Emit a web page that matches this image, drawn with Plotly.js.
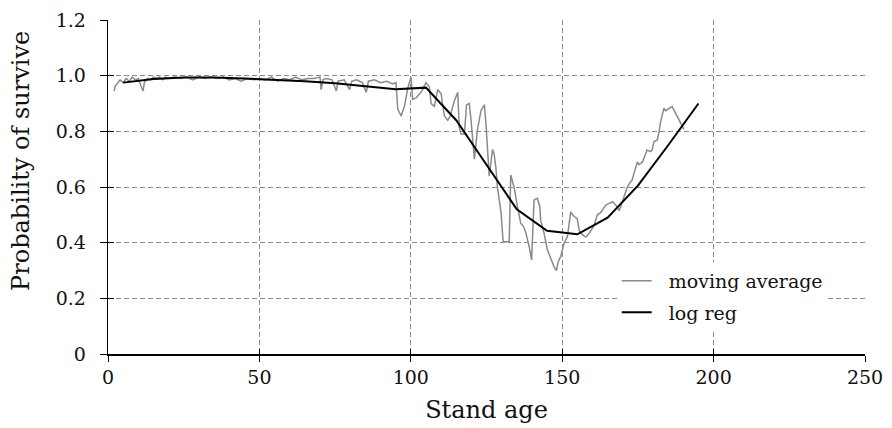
<!DOCTYPE html>
<html>
<head>
<meta charset="utf-8">
<script src="https://cdn.plot.ly/plotly-3.0.1.min.js"></script>
<style>html,body{margin:0;padding:0;background:#fff;}#chart{width:892px;height:428px;}</style>
</head>
<body>
<div id="chart"></div>
<script>
// Moving average (grey)
const maX = [2, 2.5, 3, 4, 5, 6, 7, 8, 9, 10, 11, 11.6, 12, 13, 14, 15, 16, 17, 18, 19, 20, 22, 24, 26, 28, 30, 32, 34, 36, 38, 40, 42, 44, 46, 48, 50, 52, 54, 56, 58, 60, 62, 64, 66, 68, 70, 70.4, 71, 72, 74, 75.4, 76, 78, 79.8, 80.5, 82, 84, 85.3, 86, 88, 90, 92, 94, 95.1, 95.7, 96.8, 97.9, 99, 100.1, 100.6, 101.7, 103.4, 105, 106.1, 106.7, 107.8, 108.9, 110, 111.1, 112.2, 113, 114.4, 115.5, 116, 116.6, 117.7, 118.4, 119.3, 119.9, 121, 122, 123.2, 124.3, 124.8, 125.9, 127, 127.5, 128.1, 128.6, 129.8, 130.5, 132.5, 133, 134.1, 135.2, 136.3, 137.4, 138, 139.1, 139.9, 140.7, 141.8, 142.6, 142.9, 144, 145.1, 146.2, 147.3, 148.1, 148.7, 149.5, 150.6, 151.7, 152.8, 153.9, 155, 155.6, 156.7, 157.8, 158.9, 160.5, 161.6, 162.7, 164.4, 165.5, 166.6, 167.7, 168.8, 169.3, 170.4, 171, 171.5, 172.6, 173.1, 173.7, 174.8, 175.3, 176.5, 177.6, 178, 179.2, 179.7, 180.3, 181.4, 182, 182.5, 183.6, 184.1, 186.3, 190.2];
const maY = [0.945, 0.965, 0.97, 0.985, 0.975, 0.99, 0.98, 0.995, 0.985, 0.99, 0.96, 0.945, 0.975, 0.99, 0.985, 0.995, 0.99, 0.995, 0.985, 0.995, 0.99, 0.995, 0.99, 0.995, 0.985, 0.995, 0.99, 0.995, 0.99, 0.995, 0.985, 0.99, 0.98, 0.99, 0.985, 0.99, 0.985, 0.995, 0.98, 0.99, 0.985, 0.995, 0.985, 0.99, 0.99, 0.995, 0.95, 0.985, 0.99, 0.985, 0.945, 0.98, 0.985, 0.95, 0.98, 0.985, 0.975, 0.94, 0.98, 0.985, 0.975, 0.98, 0.97, 0.975, 0.88, 0.855, 0.89, 0.955, 0.995, 0.915, 0.92, 0.94, 0.975, 0.96, 0.9, 0.89, 0.95, 0.935, 0.855, 0.84, 0.855, 0.91, 0.94, 0.815, 0.79, 0.79, 0.895, 0.9, 0.84, 0.70, 0.805, 0.875, 0.895, 0.83, 0.64, 0.735, 0.72, 0.67, 0.60, 0.51, 0.403, 0.403, 0.643, 0.60, 0.53, 0.47, 0.455, 0.435, 0.386, 0.338, 0.553, 0.559, 0.53, 0.48, 0.434, 0.374, 0.344, 0.314, 0.30, 0.332, 0.35, 0.398, 0.421, 0.51, 0.495, 0.485, 0.445, 0.428, 0.42, 0.434, 0.46, 0.50, 0.508, 0.535, 0.541, 0.547, 0.535, 0.515, 0.529, 0.565, 0.577, 0.60, 0.619, 0.625, 0.649, 0.69, 0.68, 0.69, 0.72, 0.733, 0.727, 0.733, 0.763, 0.769, 0.80, 0.835, 0.883, 0.874, 0.889, 0.807];

// Logistic regression (black)
const lrX = [5, 15, 25, 35, 45, 55, 65, 75, 85, 95, 105, 115, 125, 135, 145, 155, 165, 175, 185, 195];
const lrY = [0.975, 0.988, 0.993, 0.993, 0.99, 0.986, 0.98, 0.973, 0.963, 0.951, 0.957, 0.84, 0.68, 0.52, 0.443, 0.43, 0.49, 0.605, 0.75, 0.9];

const xTickVals = [0, 50, 100, 150, 200, 250];
const yTickVals = [0, 0.2, 0.4, 0.6, 0.8, 1.0, 1.2];
const yTickText = ['0', '0.2', '0.4', '0.6', '0.8', '1.0', '1.2'];
const seriesNames = ['moving average', 'log reg'];

const FONT = 'DejaVu Serif';
const PAD = '\u00a0\u00a0';
const RPAD = '\u00a0\u2009';

const traces = [
  {x: maX, y: maY, type: 'scatter', mode: 'lines', name: PAD + seriesNames[0], legendgroup: 'a',
   line: {color: '#8a8a8a', width: 1.5}},
  {x: lrX, y: lrY, type: 'scatter', mode: 'lines', name: PAD + seriesNames[1], legendgroup: 'b',
   line: {color: '#000000', width: 2}},
  // empty trace so the overlay axes (inner half of the crossing ticks) are drawn
  {x: [], y: [], type: 'scatter', mode: 'lines', xaxis: 'x2', yaxis: 'y2', showlegend: false, hoverinfo: 'skip'}
];

const common = {showline: true, linecolor: '#000', linewidth: 1.5, zeroline: false, tickcolor: '#000',
                showgrid: true, gridcolor: '#8a8a8a', griddash: '5px,3px', gridwidth: 1};

const layout = {
  width: 892, height: 428,
  margin: {l: 108, r: 27, t: 20, b: 74},
  paper_bgcolor: '#fff', plot_bgcolor: '#fff',
  font: {family: FONT, size: 20, color: '#111'},
  showlegend: true,
  legend: {x: 0.672, xanchor: 'left', y: 0.276, yanchor: 'top',
           bgcolor: '#fff', borderwidth: 0, font: {family: FONT, size: 19, color: '#111'},
           tracegroupgap: 4},
  xaxis: Object.assign({}, common, {
          range: [0, 250], tickvals: xTickVals, ticks: 'outside', ticklen: 6,
          tickfont: {family: FONT, size: 19, color: '#111'},
          title: {text: 'Stand age', font: {family: FONT, size: 24, color: '#111'}, standoff: 14}}),
  yaxis: Object.assign({}, common, {
          range: [0, 1.2], tickvals: yTickVals, ticktext: yTickText.map(t => t + RPAD),
          ticks: 'outside', ticklen: 7,
          tickfont: {family: FONT, size: 19, color: '#111'}}),
  xaxis2: {overlaying: 'x', anchor: 'y', side: 'bottom', range: [0, 250], tickvals: xTickVals,
           ticks: 'inside', ticklen: 5, tickcolor: '#000', showticklabels: false,
           showgrid: false, showline: false, zeroline: false},
  yaxis2: {overlaying: 'y', anchor: 'x', side: 'left', range: [0, 1.2], tickvals: yTickVals,
           ticks: 'inside', ticklen: 6, tickcolor: '#000', showticklabels: false,
           showgrid: false, showline: false, zeroline: false},
  annotations: [{
    text: 'Probability of survive', textangle: -90, showarrow: false,
    xref: 'paper', yref: 'paper', x: -0.115, y: 0.578, xanchor: 'center', yanchor: 'middle',
    font: {family: FONT, size: 24, color: '#111'}
  }]
};

Plotly.newPlot('chart', traces, layout, {displayModeBar: false, staticPlot: true});
</script>
</body>
</html>
